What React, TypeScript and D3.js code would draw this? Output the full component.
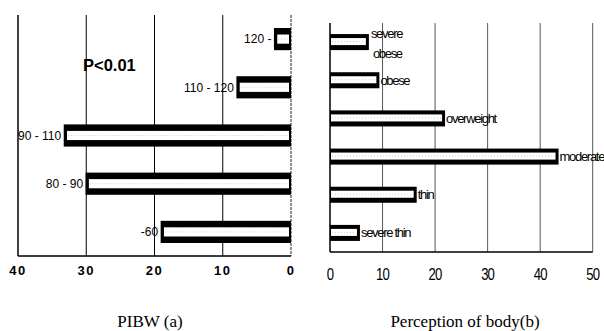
import React from "react"
import * as d3 from "d3"

// left panel: PIBW groups (%)
const pibwCats = ["120 -", "110 - 120", "90 - 110", "80 - 90", "-60"]
const pibwValues = [2.5, 8, 33.3, 30.1, 19.1]
const pibwTicks = [40, 30, 20, 10, 0]

// right panel: perception of body (%)
const bodyCats = ["severe obese", "obese", "overweight", "moderate", "thin", "severe thin"]
const bodyValues = [7.4, 9.4, 21.9, 43.5, 16.5, 5.7]
const bodyTicks = [0, 10, 20, 30, 40, 50]

const sans = "'Liberation Sans', Arial, sans-serif"
const serif = "'Liberation Serif', 'Times New Roman', serif"

export default function App() {
    const W = 604
    const H = 331

    // left chart scales
    const xL = d3.scaleLinear().domain([40, 0]).range([18, 291])
    const yL = d3.scaleBand().domain(pibwCats).range([15, 256]).paddingInner(0.54).paddingOuter(0.27)

    // right chart scales
    const xR = d3.scaleLinear().domain([0, 50]).range([330, 592.7])
    const yR = d3.scaleBand().domain(bodyCats).range([23, 252]).paddingInner(0.58).paddingOuter(0.29)

    return (
        <svg width={W} height={H} viewBox={`0 0 ${W} ${H}`} style={{ position: "absolute", left: 0, top: 0, background: "#fff" }}>
            {/* ---- left chart ---- */}
            <g>
                {[30, 20, 10].map(t => (
                    <line key={t} x1={xL(t)} x2={xL(t)} y1={15} y2={256} stroke="#000" strokeWidth={1} />
                ))}
                <line x1={xL(40)} x2={xL(40)} y1={15} y2={256} stroke="#000" strokeWidth={1.5} />
                <line x1={xL(0)} x2={xL(0)} y1={15} y2={256} stroke="#222" strokeWidth={1} strokeDasharray="3,1" />
                <line x1={xL(40)} x2={xL(0)} y1={256} y2={256} stroke="#000" strokeWidth={1.5} />

                {pibwCats.map((c, i) => {
                    const x0 = xL(pibwValues[i])
                    const x1 = xL(0)
                    const y = yL(c)!
                    const h = yL.bandwidth()
                    return (
                        <g key={c}>
                            <rect x={x0} y={y} width={x1 - x0} height={h} fill="#000" />
                            <rect x={x0 + 3.3} y={y + 6.5} width={x1 - x0 - 5.3} height={h - 13} fill="#fff" />
                            <line x1={x0 + 4} x2={x1 - 3} y1={y + h / 2} y2={y + h / 2} stroke="#bbb" strokeWidth={0.7} strokeDasharray="1,2" />
                            <text x={x0 - 2.5} y={y + h / 2} dy="0.35em" textAnchor="end" fontFamily={sans} fontSize={12} fill="#000">{c}</text>
                        </g>
                    )
                })}

                {pibwTicks.map(t => (
                    <text key={t} x={xL(t)} y={275} textAnchor="middle" fontFamily={sans} fontSize={13} fontWeight="bold" letterSpacing={1.5} fill="#000">{t}</text>
                ))}

                <text x={83} y={71} fontFamily={sans} fontSize={16.5} fontWeight="bold" fill="#000">P&lt;0.01</text>
                <text x={150} y={327} textAnchor="middle" fontFamily={serif} fontSize={17} fill="#000">PIBW (a)</text>
            </g>

            {/* ---- right chart ---- */}
            <g>
                {[10, 20, 30, 40, 50].map(t => (
                    <line key={t} x1={xR(t)} x2={xR(t)} y1={23} y2={252} stroke="#444" strokeWidth={0.9} />
                ))}
                <line x1={xR(0)} x2={xR(0)} y1={23} y2={252} stroke="#000" strokeWidth={1.5} />
                <line x1={xR(0)} x2={xR(50)} y1={252} y2={252} stroke="#000" strokeWidth={1.3} />

                {bodyCats.map((c, i) => {
                    const x0 = xR(0)
                    const x1 = xR(bodyValues[i])
                    const y = yR(c)!
                    const h = yR.bandwidth()
                    const words = c === "severe obese" ? ["severe", "obese"] : [c]
                    return (
                        <g key={c}>
                            <rect x={x0} y={y} width={x1 - x0} height={h} fill="#000" />
                            <rect x={x0 + 1} y={y + 4} width={x1 - x0 - 4} height={h - 9} fill="#fff" />
                            <line x1={x0 + 2} x2={x1 - 4} y1={y + h / 2 - 0.5} y2={y + h / 2 - 0.5} stroke="#bbb" strokeWidth={0.7} strokeDasharray="1,2" />
                            {words.length === 1 ? (
                                <text x={x1 + 1} y={y + h / 2} dy="0.35em" fontFamily={sans} fontSize={13} letterSpacing={-1.3} fill="#000">{c}</text>
                            ) : (
                                <text fontFamily={sans} fontSize={13} letterSpacing={-1.3} fill="#000">
                                    <tspan x={x1 + 2} y={y + h / 2 - 8.5} dy="0.35em">{words[0]}</tspan>
                                    <tspan x={x1 + 4} y={y + h / 2 + 11.5} dy="0.35em">{words[1]}</tspan>
                                </text>
                            )}
                        </g>
                    )
                })}

                {bodyTicks.map(t => (
                    <text key={t} transform={`translate(${xR(t)},280) scale(0.82,1)`} textAnchor="middle" fontFamily={sans} fontSize={16} letterSpacing={-1} fill="#000">{t}</text>
                ))}

                <text x={465} y={327} textAnchor="middle" fontFamily={serif} fontSize={17} fill="#000">Perception of body(b)</text>
            </g>
        </svg>
    )
}
